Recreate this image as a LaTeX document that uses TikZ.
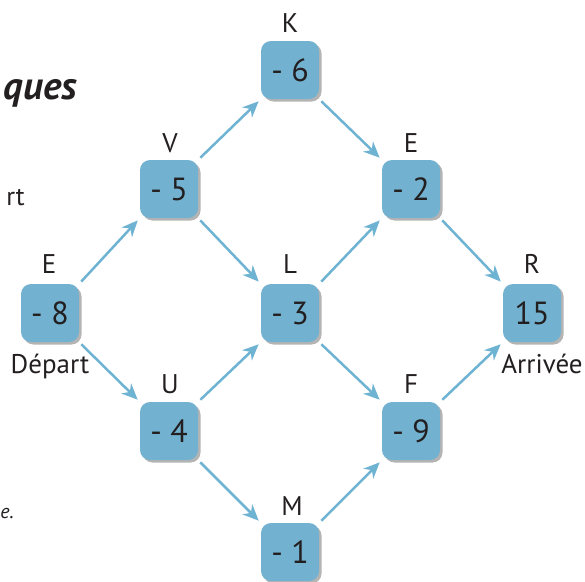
\documentclass[tikz,border=0pt]{standalone}
\usepackage{fontspec}
\setmainfont{PT Sans}
\usetikzlibrary{arrows.meta,shadows}
\definecolor{boxblue}{HTML}{72B2D0}
\definecolor{arrblue}{HTML}{6FB3D3}
\definecolor{txtc}{HTML}{231F20}
\definecolor{shadowc}{HTML}{B4B4B4}
\begin{document}
\begin{tikzpicture}[x=1pt,y=-1pt,
  box/.style={rounded corners=10pt, fill=boxblue, minimum width=58pt, minimum height=58pt,
    inner sep=0pt, font=\fontsize{32}{32}\selectfont, text=txtc,
    drop shadow={shadow xshift=2.5pt, shadow yshift=-2.5pt, fill=shadowc, opacity=1}},
  lab/.style={font=\fontsize{27}{27}\selectfont, text=txtc, inner sep=0pt, anchor=base},
  frag/.style={text=txtc, inner sep=0pt, anchor=base east},
  arr/.style={draw=arrblue, line width=2.5pt, -{Stealth[length=16pt,width=14pt,inset=5pt]},
    shorten <=3pt, shorten >=3pt}]
\useasboundingbox (0,0) rectangle (585,581);

% page fragments
\node[frag, font=\fontsize{39}{39}\selectfont\bfseries\itshape] (fq) at (77,99) {ques};
\node[frag, font=\fontsize{26}{26}\selectfont] (fr) at (25,205) {rt};
\node[frag, font=\fontsize{20}{20}\selectfont\itshape] (fe) at (14,518) {e.};

% boxes
\node[box] (E)  at (50,313)  {- 8};
\node[box] (V)  at (169,189) {- 5};
\node[box] (U)  at (169,431) {- 4};
\node[box] (K)  at (290,70)  {- 6};
\node[box] (L)  at (290,313) {- 3};
\node[box] (M)  at (290,552) {- 1};
\node[box] (E2) at (411,189) {- 2};
\node[box] (F)  at (411,431) {- 9};
\node[box] (R)  at (532,313) {15};

% letter labels
\node[lab] (lE)  at (49,273)  {E};
\node[lab] (lV)  at (170,152) {V};
\node[lab] (lU)  at (170,393) {U};
\node[lab] (lK)  at (290,32)  {K};
\node[lab] (lL)  at (290,273) {L};
\node[lab] (lM)  at (292,515) {M};
\node[lab] (lE2) at (411,152) {E};
\node[lab] (lF)  at (411,393) {F};
\node[lab] (lR)  at (532,273) {R};

\node[lab] (dep) at (50,373)  {Départ};
\node[lab] (arv) at (542,373) {Arrivée};

% arrows
\draw[arr] (E.north east) -- (V.south west);
\draw[arr] (E.south east) -- (U.north west);
\draw[arr] (V.north east) -- (K.south west);
\draw[arr] (V.south east) -- (L.north west);
\draw[arr] (U.north east) -- (L.south west);
\draw[arr] (U.south east) -- (M.north west);
\draw[arr] (K.south east) -- (E2.north west);
\draw[arr] (L.north east) -- (E2.south west);
\draw[arr] (L.south east) -- (F.north west);
\draw[arr] (M.north east) -- (F.south west);
\draw[arr] (E2.south east) -- (R.north west);
\draw[arr] (F.north east) -- (R.south west);
\end{tikzpicture}
\end{document}
